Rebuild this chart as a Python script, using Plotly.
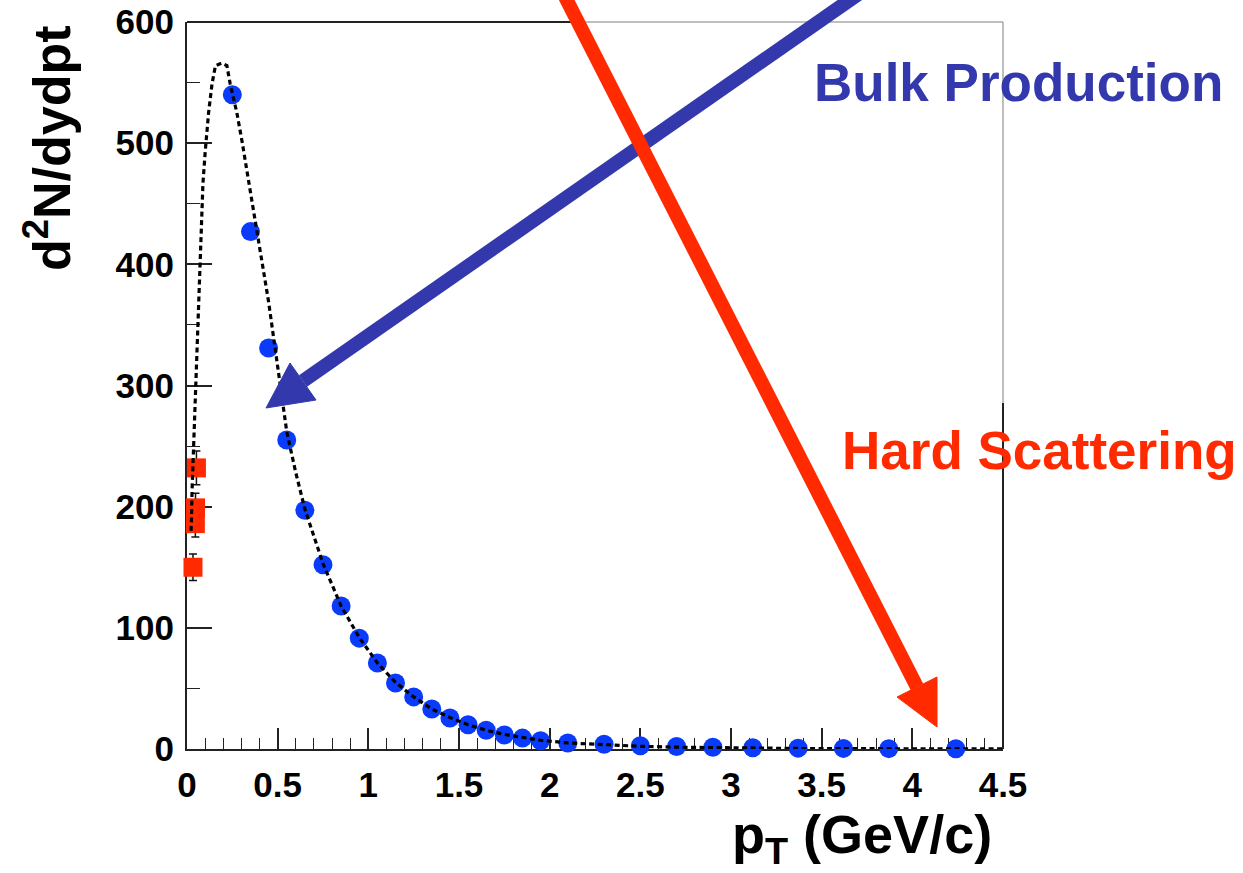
import plotly.graph_objects as go

# Blue spectrum points
pt_bulk = [0.25, 0.35, 0.45, 0.55, 0.65, 0.75, 0.85, 0.95, 1.05, 1.15, 1.25, 1.35,
           1.45, 1.55, 1.65, 1.75, 1.85, 1.95, 2.1, 2.3, 2.5, 2.7, 2.9, 3.12,
           3.37, 3.62, 3.87, 4.24]
dn_bulk = [540, 427, 331, 255, 197, 152, 118, 91.5, 71, 54.5, 43, 33,
           25.6, 20, 15.5, 11.6, 9, 6.8, 5, 3.9, 2.7, 2.0, 1.5, 1.0,
           0.7, 0.5, 0.3, 0.2]

# Red low-pT points with errors
pt_low = [0.052, 0.047, 0.046, 0.033]
dn_low = [232, 199, 186, 150]
err_low = [14, 12, 11, 11]

# Fit curve samples
pt_fit = [0.022, 0.024, 0.028, 0.036, 0.042, 0.051, 0.060, 0.068, 0.073, 0.088,
          0.101, 0.119, 0.138, 0.157, 0.19, 0.22, 0.238, 0.275, 0.303, 0.33,
          0.358, 0.394, 0.409, 0.449, 0.495, 0.55, 0.6, 0.65, 0.75, 0.85, 0.95,
          1.05, 1.15, 1.25, 1.35, 1.45, 1.55, 1.65, 1.75, 1.85, 1.95, 2.1, 2.3,
          2.5, 2.7, 2.9, 3.1, 3.4, 3.6, 3.9, 4.2, 4.5]
dn_fit = [180, 186, 214, 247, 274, 307, 348, 390, 411, 467,
          494, 525, 549, 564, 566, 564, 549, 525, 502, 478,
          453, 420, 406, 370, 321, 262, 228, 198, 153, 118, 92,
          71, 55, 43, 33, 26, 20, 15.5, 12, 9.3, 7.2, 5, 3.3,
          2.2, 1.5, 1.0, 0.7, 0.4, 0.3, 0.2, 0.1, 0.05]

x_ticks = [0, 0.5, 1, 1.5, 2, 2.5, 3, 3.5, 4, 4.5]
y_ticks = [0, 100, 200, 300, 400, 500, 600]

FIG_W, FIG_H = 1243, 873
M_L, M_R, M_T, M_B = 187, 240, 22, 124
PW = FIG_W - M_L - M_R
PH = FIG_H - M_T - M_B

BLUE = "#0B3BFA"
RED = "#FF2A00"
ARROW_BLUE = "#3339AC"
FONT = "Liberation Sans, Arial, Helvetica, sans-serif"


def px(x):
    return (x - M_L) / PW


def py(y):
    return (FIG_H - M_B - y) / PH


def arrow(color, start, base, tip, left, right, width):
    shapes = [
        dict(type="line", xref="paper", yref="paper",
             x0=px(start[0]), y0=py(start[1]), x1=px(base[0]), y1=py(base[1]),
             line=dict(color=color, width=width), layer="above"),
        dict(type="path", xref="paper", yref="paper",
             path=(f"M {px(tip[0])},{py(tip[1])} L {px(left[0])},{py(left[1])} "
                   f"L {px(right[0])},{py(right[1])} Z"),
             fillcolor=color, line=dict(color=color, width=1), layer="above"),
    ]
    return shapes


fig = go.Figure()

fig.add_trace(go.Scatter(
    x=pt_low, y=dn_low, mode="markers",
    marker=dict(symbol="square", size=19, color=RED, line=dict(width=0)),
    error_y=dict(type="data", array=err_low, color="#111111", thickness=1.5, width=4),
    cliponaxis=False, showlegend=False))

fig.add_trace(go.Scatter(
    x=pt_bulk, y=dn_bulk, mode="markers",
    marker=dict(symbol="circle", size=19, color=BLUE, line=dict(width=0)),
    cliponaxis=False, showlegend=False))

fig.add_trace(go.Scatter(
    x=pt_fit, y=dn_fit, mode="lines",
    line=dict(color="black", width=3.2, dash="5px,3.5px"),
    cliponaxis=False, showlegend=False))

axis_common = dict(
    showgrid=False, zeroline=False, showline=True, linecolor="#222222", linewidth=2,
    ticks="inside", tickcolor="#222222", tickwidth=1.6, layer="below traces",
    automargin=False,
    tickfont=dict(family=FONT, size=35, color="black", weight="bold"),
)

fig.update_xaxes(range=[0, 4.5], tickvals=x_ticks, ticklen=21, ticklabelstandoff=4,
                 minor=dict(ticks="inside", dtick=0.1, ticklen=11, tickcolor="#222222",
                            tickwidth=1.4),
                 **axis_common)
fig.update_yaxes(range=[0, 600], tickvals=y_ticks, ticklen=25, ticklabelstandoff=4,
                 minor=dict(ticks="inside", dtick=50, ticklen=13, tickcolor="#222222",
                            tickwidth=1.4),
                 **axis_common)

shapes = []
# frame: top and right borders
shapes.append(dict(type="line", xref="paper", yref="paper", x0=0, x1=px(580), y0=1, y1=1,
                   line=dict(color="#222222", width=2)))
shapes.append(dict(type="line", xref="paper", yref="paper", x0=px(580), x1=1, y0=1, y1=1,
                   line=dict(color="#A8A8A8", width=1.5)))
shapes.append(dict(type="line", xref="paper", yref="paper", x0=1, x1=1, y0=1, y1=py(403),
                   line=dict(color="#A8A8A8", width=1.5)))
shapes.append(dict(type="line", xref="paper", yref="paper", x0=1, x1=1, y0=py(403), y1=0,
                   line=dict(color="#222222", width=2)))

# arrows
shapes += arrow(ARROW_BLUE, start=(880, -21), base=(303, 381), tip=(266, 408),
                left=(290, 363), right=(316, 400), width=14)
shapes += arrow(RED, start=(556, -21), base=(917, 687), tip=(937, 727),
                left=(897, 697), right=(937, 677), width=14)

annotations = [
    dict(text="Bulk Production", xref="paper", yref="paper", x=px(1018), y=py(82),
         xanchor="center", yanchor="middle", showarrow=False,
         font=dict(family=FONT, size=53, color=ARROW_BLUE, weight="bold")),
    dict(text="Hard Scattering", xref="paper", yref="paper", x=px(1039), y=py(450),
         xanchor="center", yanchor="middle", showarrow=False,
         font=dict(family=FONT, size=53, color=RED, weight="bold")),
    dict(text="p<sub>T</sub> (GeV/c)", xref="paper", yref="paper", x=px(994), y=py(838),
         xanchor="right", yanchor="middle", showarrow=False,
         font=dict(family=FONT, size=54, color="black", weight="bold")),
    dict(text="d<sup>2</sup>N/dydpt", xref="paper", yref="paper", x=px(48), y=py(148),
         xanchor="center", yanchor="middle", textangle=-90, showarrow=False,
         font=dict(family=FONT, size=52, color="black", weight="bold")),
]

fig.update_layout(
    width=FIG_W, height=FIG_H,
    margin=dict(l=M_L, r=M_R, t=M_T, b=M_B, pad=0),
    paper_bgcolor="white", plot_bgcolor="white",
    shapes=shapes, annotations=annotations,
    showlegend=False,
)

fig.write_html("out.html")
